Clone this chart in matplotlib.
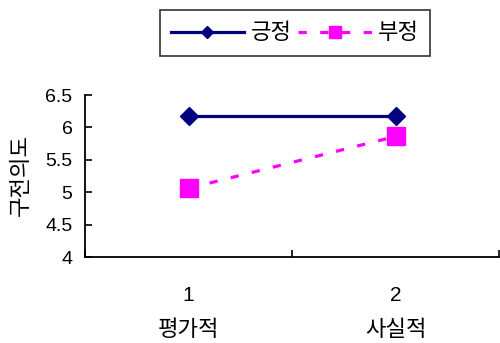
import matplotlib
matplotlib.use("Agg")
import matplotlib.pyplot as plt

# 구전의도 평균값 (평가적 / 사실적 메시지)
categories = ["평가적", "사실적"]
cat_numbers = ["1", "2"]
positive = [6.17, 6.17]   # 긍정
negative = [5.06, 5.86]   # 부정
yticks = [4, 4.5, 5, 5.5, 6, 6.5]
ytick_labels = ["4", "4.5", "5", "5.5", "6", "6.5"]

plt.rcParams['font.family'] = ['Liberation Sans', 'Noto Sans CJK KR']

fig = plt.figure(figsize=(5.0, 3.43), dpi=100)
ax = fig.add_axes([0.17, 0.2507, 0.828, 0.4723])

x = [1, 2]
ax.plot(x, positive, color='#000080', lw=2.3, marker='D', ms=9.5,
        label='긍정')
ax.plot(x, negative, color='#FF00FF', lw=2.3, ls=(0, (2.6, 4.2)),
        marker='s', ms=13.5, label='부정')

ax.set_xlim(0.5, 2.5)
ax.set_ylim(4, 6.5)

# 범주 경계에 눈금, 범주 중앙에 라벨
ax.set_xticks([0.5, 1.5, 2.5])
ax.set_xticklabels([])
ax.set_xticks(x, minor=True)
ax.set_xticklabels(cat_numbers, minor=True, fontsize=15)
ax.tick_params(axis='x', which='major', direction='in', length=5, width=1.2)
ax.tick_params(axis='x', which='minor', length=0, pad=21)

for xi, name in zip(x, categories):
    ax.text(xi, -0.45, name, transform=ax.get_xaxis_transform(),
            ha='center', va='center', fontsize=16, family='Noto Sans CJK KR')

ax.set_yticks(yticks)
ax.set_yticklabels(ytick_labels, fontsize=14)
ax.tick_params(axis='y', direction='in', length=5, width=1.2, pad=9)

# 세로축 제목
fig.text(20 / 500, 1 - 175 / 343, '구전의도', rotation=90, ha='center',
         va='center', fontsize=16, family='Noto Sans CJK KR')

for side in ['top', 'right']:
    ax.spines[side].set_visible(False)
for side in ['left', 'bottom']:
    ax.spines[side].set_linewidth(1.3)

leg = fig.legend(loc='center', bbox_to_anchor=(0.59, 0.904), ncol=2,
                 frameon=True, fancybox=False, handlelength=3.3,
                 markerscale=0.65, columnspacing=0.3, handletextpad=0.3,
                 borderpad=0.5, borderaxespad=0,
                 prop={'family': 'Noto Sans CJK KR', 'size': 16})
leg.get_frame().set_edgecolor('black')
leg.get_frame().set_linewidth(1.2)

fig.savefig('out.png', dpi=100)
